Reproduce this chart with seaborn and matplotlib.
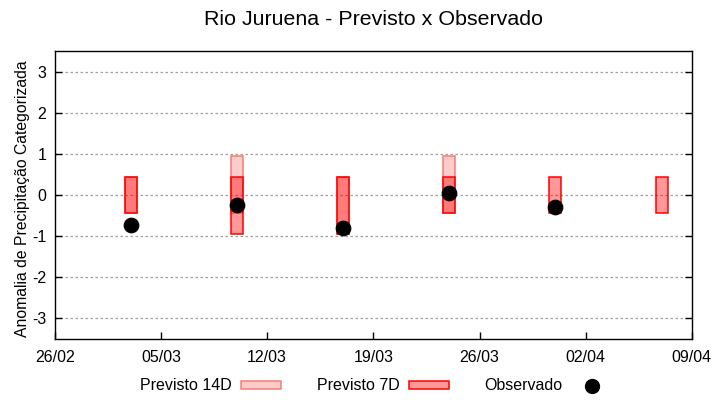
import numpy as np
import pandas as pd
import matplotlib
matplotlib.use('Agg')
import matplotlib.pyplot as plt
from matplotlib.patches import Rectangle
from matplotlib.lines import Line2D
import seaborn as sns

# dados
datas = pd.to_datetime(['2023-03-03', '2023-03-10', '2023-03-17',
                        '2023-03-24', '2023-03-31', '2023-04-07'])
p14_min = [-0.44, -0.44, -0.95, -0.44, np.nan, np.nan]
p14_max = [0.44, 0.96, 0.44, 0.96, np.nan, np.nan]
p7_min = [-0.44, -0.95, -0.95, -0.44, -0.44, -0.44]
p7_max = [0.44, 0.44, 0.44, 0.44, 0.44, 0.44]
observado = [-0.73, -0.24, -0.80, 0.05, -0.29, np.nan]
rotulos_x = ['26/02', '05/03', '12/03', '19/03', '26/03', '02/04', '09/04']

df = pd.DataFrame({'data': datas, 'p14_min': p14_min, 'p14_max': p14_max,
                   'p7_min': p7_min, 'p7_max': p7_max, 'obs': observado})

sns.set_style('white')
plt.rcParams['font.family'] = ['Liberation Sans', 'DejaVu Sans']
plt.rcParams['axes.unicode_minus'] = False
plt.rcParams['text.color'] = 'black'
plt.rcParams['axes.labelcolor'] = 'black'
plt.rcParams['xtick.color'] = 'black'
plt.rcParams['ytick.color'] = 'black'

fig = plt.figure(figsize=(7.2, 4), dpi=100)
ax = fig.add_axes([0.076, 0.1525, 0.885, 0.72])

largura = 0.8
cor14_face = (1, 0, 0, 0.2)
cor14_borda = (0.95, 0.45, 0.4, 0.9)
cor7_face = (1, 0, 0, 0.4)

d14 = df.dropna(subset=['p14_min'])
ax.bar(d14['data'], d14['p14_max'] - d14['p14_min'], bottom=d14['p14_min'],
       width=largura, facecolor=cor14_face, edgecolor=cor14_borda, linewidth=1.1, zorder=2)
ax.bar(df['data'], df['p7_max'] - df['p7_min'], bottom=df['p7_min'],
       width=largura, facecolor=cor7_face, edgecolor='red', linewidth=1.1, zorder=3)
sns.scatterplot(data=df.dropna(subset=['obs']), x='data', y='obs', ax=ax,
                color='black', s=110, edgecolor='black', zorder=4, legend=False)

ax.set_ylim(-3.5, 3.5)
ax.set_yticks(range(-3, 4))
ax.set_xlim(pd.Timestamp('2023-02-26'), pd.Timestamp('2023-04-09'))
ticks_x = pd.date_range('2023-02-26', '2023-04-09', freq='7D')
ax.set_xticks(ticks_x)
ax.set_xticklabels(rotulos_x)
ax.set_xlabel('')
ax.set_ylabel('Anomalia de Precipitação Categorizada', fontsize=11.3)
ax.yaxis.set_label_coords(-0.039, 0.486)
ax.yaxis.grid(True, linestyle=(0, (2, 2)), color='#a0a0a0', linewidth=0.9)
ax.xaxis.grid(False)
ax.tick_params(direction='in', length=5, width=1, labelsize=11.5,
               top=False, right=True, left=True, bottom=True)
ax.tick_params(axis='x', pad=8)
ax.tick_params(axis='y', pad=6)
for s in ax.spines.values():
    s.set_color('black')
    s.set_linewidth(1)

fig.suptitle('Rio Juruena - Previsto x Observado', fontsize=15.4, x=0.519, y=0.975)

handles = [Rectangle((0, 0), 1, 1, facecolor=cor14_face, edgecolor=cor14_borda, linewidth=1.1),
           Rectangle((0, 0), 1, 1, facecolor=cor7_face, edgecolor='red', linewidth=1.1),
           Line2D([], [], marker='o', color='black', linestyle='none', markersize=10)]
fig.legend(handles, ['Previsto 14D', 'Previsto 7D', 'Observado'], loc='center',
           bbox_to_anchor=(0.522, 0.035), ncol=3, markerfirst=False, frameon=False,
           fontsize=11.5, handlelength=2.5, handleheight=0.45, handletextpad=0.6,
           columnspacing=2.2)

fig.savefig('out.png', dpi=100)
